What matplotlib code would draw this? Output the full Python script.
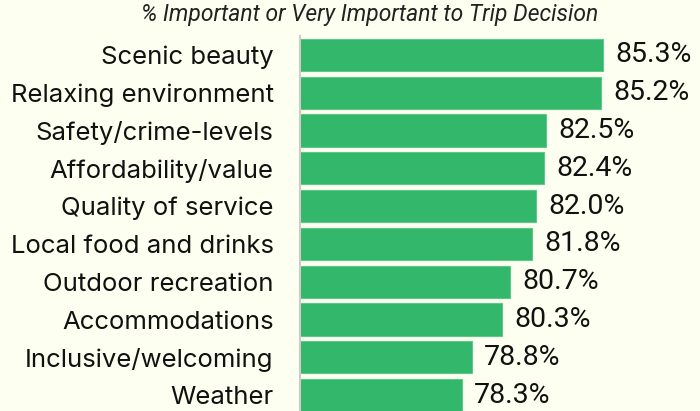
import matplotlib.pyplot as plt

categories = ['Scenic beauty', 'Relaxing environment', 'Safety/crime-levels',
              'Affordability/value', 'Quality of service', 'Local food and drinks',
              'Outdoor recreation', 'Accommodations', 'Inclusive/welcoming', 'Weather']
values = [85.3, 85.2, 82.5, 82.4, 82.0, 81.8, 80.7, 80.3, 78.8, 78.3]
title = '% Important or Very Important to Trip Decision'

bg = '#fdfff0'
green = '#32b76b'

fig = plt.figure(figsize=(7, 4.11), dpi=100, facecolor=bg)
ax = fig.add_axes([300 / 700, 0, 400 / 700, 1 - 36 / 411])
ax.set_facecolor(bg)

y = list(range(len(categories)))
ax.barh(y, values, height=0.85, left=0, color=green, edgecolor='#5cc98a', linewidth=0.8)
ax.set_xlim(70.25, 90.15)
ax.set_ylim(9.42, -0.5)

for yi, v in zip(y, values):
    ax.text(v + 0.62, yi, f'{v:.1f}%', va='center', ha='left', fontsize=20.5,
            family='Roboto', color='#111111')

ax.set_yticks(y)
ax.set_yticklabels(categories, fontsize=18.5, family='Inter', color='#111111')
ax.tick_params(axis='y', length=0, pad=19)
ax.set_xticks([])
for s in ['top', 'right', 'bottom']:
    ax.spines[s].set_visible(False)
ax.spines['left'].set_color('#cccccc')
ax.spines['left'].set_linewidth(1.5)

fig.text(370 / 700, 1 - 14 / 411, title, ha='center', va='center', fontsize=16.5,
         style='italic', family='Roboto', color='#222222')

fig.savefig('out.png', dpi=100, facecolor=bg)
